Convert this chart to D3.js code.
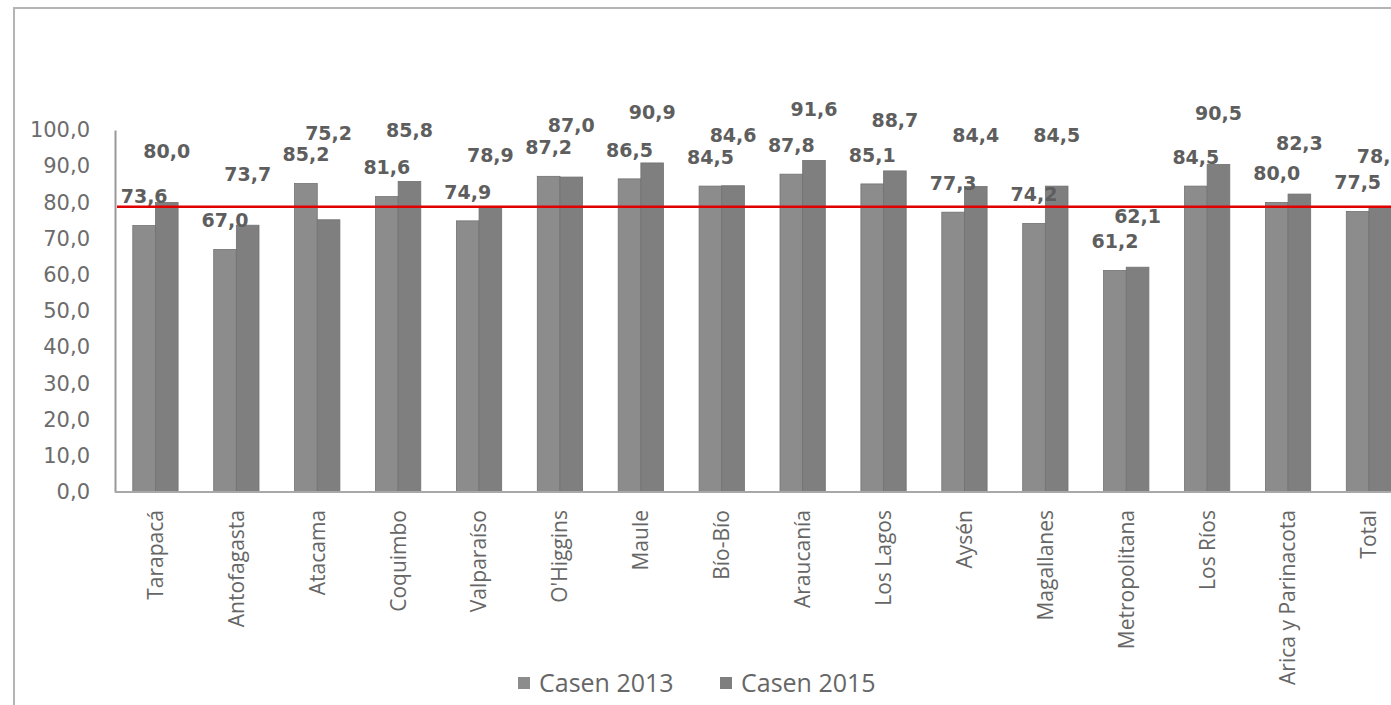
<!DOCTYPE html>
<html>
<head>
<meta charset="utf-8">
<script src="https://cdn.jsdelivr.net/npm/d3@7"></script>
<style>
  body { margin: 0; background: #fff; }
  svg { display: block; }
</style>
</head>
<body>
<svg id="chart" width="1391" height="705"></svg>
<script>
// regions as they appear on the axis
const regions = ["Tarapacá", "Antofagasta", "Atacama", "Coquimbo", "Valparaíso", "O'Higgins",
  "Maule", "Bío-Bío", "Araucanía", "Los Lagos", "Aysén", "Magallanes", "Metropolitana",
  "Los Ríos", "Arica y Parinacota", "Total"];

const series = ["Casen 2013", "Casen 2015"];

const casen2013 = [73.6, 67.0, 85.2, 81.6, 74.9, 87.2, 86.5, 84.5, 87.8, 85.1, 77.3, 74.2, 61.2, 84.5, 80.0, 77.5];
const casen2015 = [80.0, 73.7, 75.2, 85.8, 78.9, 87.0, 90.9, 84.6, 91.6, 88.7, 84.4, 84.5, 62.1, 90.5, 82.3, 78.8];

const yTicks = [0, 10, 20, 30, 40, 50, 60, 70, 80, 90, 100];

// reference line = national total 2015
const refValue = casen2015[regions.indexOf("Total")];

const colors = { "Casen 2013": "#8c8c8c", "Casen 2015": "#7f7f7f" };

const fmt = v => d3.format(".1f")(v).replace(".", ",");

let rows = regions.map(function(r, i) {
  let top = Math.max(casen2013[i], casen2015[i]);
  return { region: r, values: [
    { key: series[0], value: casen2013[i], labelAt: casen2013[i] + 8 },
    // 2015 labels go above the taller of the two bars
    { key: series[1], value: casen2015[i], labelAt: top + 14 }
  ]};
});

let svg = d3.select("#chart");

// scanned page frame
svg.append("path")
  .attr("d", "M14,706 L14,8 L1392,8")
  .attr("fill", "none")
  .attr("stroke", "#b4b4b4")
  .attr("stroke-width", 2);

let y = d3.scaleLinear().domain([0, 100]).range([492, 130]);

let x = d3.scaleBand()
  .domain(regions)
  .range([115, 1409.4])
  .paddingInner(0.44)
  .paddingOuter(0.22);

let xs = d3.scaleBand().domain(series).range([0, x.bandwidth()]);

// y axis: labels only, plus plain line
let yAxis = svg.append("g")
  .attr("transform", "translate(115,0)")
  .call(d3.axisLeft(y).tickValues(yTicks).tickFormat(fmt).tickSize(0).tickPadding(25));

yAxis.select(".domain").attr("stroke", "#999").attr("stroke-width", 2);
yAxis.selectAll("text")
  .attr("font-family", "DejaVu Sans")
  .attr("font-size", 21)
  .attr("fill", "#6c6c6c");

// bars
let groups = svg.append("g").selectAll("g")
  .data(rows).enter().append("g")
  .attr("transform", function(d) { return "translate(" + x(d.region) + ",0)"; });

groups.selectAll("rect")
  .data(function(d) { return d.values; }).enter().append("rect")
  .attr("x", function(d) { return xs(d.key); })
  .attr("y", function(d) { return y(d.value); })
  .attr("width", xs.bandwidth())
  .attr("height", function(d) { return y(0) - y(d.value); })
  .attr("fill", function(d) { return colors[d.key]; })
  .attr("stroke", "#727272")
  .attr("stroke-width", 0.8);

// data labels
groups.selectAll("text")
  .data(function(d) { return d.values; }).enter().append("text")
  .attr("x", function(d) { return xs(d.key) + xs.bandwidth() / 2; })
  .attr("y", function(d) { return y(d.labelAt); })
  .attr("dy", "0.35em")
  .attr("text-anchor", "middle")
  .attr("font-family", "DejaVu Sans")
  .attr("font-weight", "bold")
  .attr("font-size", 19)
  .attr("fill", "#5e5e5e")
  .text(function(d) { return fmt(d.value); });

// x axis
let xAxis = svg.append("g")
  .attr("transform", "translate(0," + y(0) + ")")
  .call(d3.axisBottom(x).tickSize(0).tickSizeOuter(0));

xAxis.select(".domain")
  .attr("d", "M115,0H1391")
  .attr("stroke", "#a8a8a8")
  .attr("stroke-width", 2);

xAxis.selectAll("text")
  .attr("transform", "translate(0,18) rotate(-90)")
  .attr("text-anchor", "end")
  .attr("x", 0)
  .attr("y", 0)
  .attr("dy", "0.35em")
  .attr("font-family", "Open Sans")
  .attr("font-size", 21)
  .attr("fill", "#666");

// reference line
svg.append("line")
  .attr("x1", 117).attr("x2", 1391)
  .attr("y1", y(refValue)).attr("y2", y(refValue))
  .attr("stroke", "#e00000")
  .attr("stroke-width", 2.5);

// legend
let legend = svg.append("g").selectAll("g")
  .data(series).enter().append("g")
  .attr("transform", function(d, i) { return "translate(" + (518 + i * 202) + ",683)"; });

legend.append("rect")
  .attr("x", 0).attr("y", -6)
  .attr("width", 12).attr("height", 12)
  .attr("fill", function(d) { return colors[d]; });

legend.append("text")
  .attr("x", 21)
  .attr("dy", "0.35em")
  .attr("font-family", "Open Sans")
  .attr("font-size", 25)
  .attr("fill", "#666")
  .text(function(d) { return d; });
</script>
</body>
</html>
